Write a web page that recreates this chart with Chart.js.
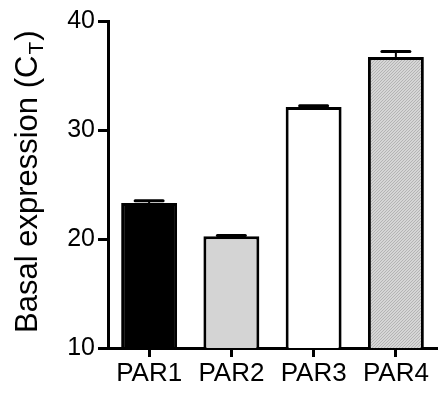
<!DOCTYPE html>
<html>
<head>
<meta charset="utf-8">
<script src="https://cdn.jsdelivr.net/npm/chart.js@4"></script>
<style>
  html, body { margin: 0; padding: 0; background: #fff; }
  #chart { display: block; }
</style>
</head>
<body>
<canvas id="chart" width="438" height="393"></canvas>
<script>
// values
var categories = ["PAR1", "PAR2", "PAR3", "PAR4"];
var basal = [23.3, 20.25, 32.1, 36.7];
var sem = [0.2, 0.08, 0.12, 0.5];
var yTicks = [10, 20, 30, 40];
var yTitle = "Basal expression (C";
var yTitleSub = "T";

var FONT = "'Liberation Sans', Arial, Helvetica, sans-serif";

// fine grey hatch for PAR4
function hatch() {
  var c = document.createElement("canvas");
  c.width = 3;
  c.height = 3;
  var g = c.getContext("2d");
  g.fillStyle = "#d6d6d6";
  g.fillRect(0, 0, 3, 3);
  g.fillStyle = "#b4b4b4";
  for (var i = 0; i < 3; i++) {
    g.fillRect(i, 2 - i, 1, 1);
  }
  return g.createPattern(c, "repeat");
}

var fills = ["#000000", "#d4d4d4", "#ffffff", hatch()];

var errorBars = {
  id: "errorBars",
  afterDatasetsDraw: function (chart) {
    var ctx = chart.ctx;
    var y = chart.scales.y;
    var meta = chart.getDatasetMeta(0);
    ctx.save();
    ctx.strokeStyle = "#000";
    meta.data.forEach(function (bar, i) {
      var top = y.getPixelForValue(basal[i] + sem[i]);
      var half = bar.width * 0.25;
      ctx.lineWidth = 2;
      ctx.lineCap = "butt";
      ctx.beginPath();
      ctx.moveTo(bar.x, bar.y);
      ctx.lineTo(bar.x, top);
      ctx.stroke();
      ctx.lineWidth = 3;
      ctx.lineCap = "round";
      ctx.beginPath();
      ctx.moveTo(bar.x - half, top);
      ctx.lineTo(bar.x + half, top);
      ctx.stroke();
    });
    ctx.restore();
  }
};

// axis title with subscript T
var axisTitle = {
  id: "axisTitle",
  afterDraw: function (chart) {
    var ctx = chart.ctx;
    ctx.save();
    ctx.translate(37, 333);
    ctx.rotate(-Math.PI / 2);
    ctx.fillStyle = "#000";
    ctx.textBaseline = "alphabetic";
    ctx.textAlign = "left";
    ctx.font = "31px " + FONT;
    ctx.fillText(yTitle, 0, 0);
    var w = ctx.measureText(yTitle).width;
    ctx.font = "21px " + FONT;
    ctx.fillText(yTitleSub, w + 1, 6);
    var w2 = ctx.measureText(yTitleSub).width;
    ctx.font = "31px " + FONT;
    ctx.fillText(")", w + w2 + 2, 0);
    ctx.restore();
  }
};

var ctx = document.getElementById("chart");

var chart = new Chart(ctx, {
  type: "bar",
  data: {
    labels: categories,
    datasets: [
      {
        data: basal,
        backgroundColor: fills,
        borderColor: "#000",
        borderWidth: 3,
        borderSkipped: "start",
        barPercentage: 0.68,
        categoryPercentage: 1
      }
    ]
  },
  options: {
    responsive: false,
    animation: false,
    events: [],
    layout: {
      padding: { top: 21, right: 1, left: 0, bottom: 0 }
    },
    plugins: {
      legend: { display: false },
      tooltip: { enabled: false }
    },
    scales: {
      x: {
        z: 1,
        offset: true,
        grid: {
          offset: false,
          drawOnChartArea: false,
          color: "#000",
          lineWidth: 3,
          tickLength: 9
        },
        border: { color: "#000", width: 3 },
        ticks: {
          color: "#000",
          padding: 1,
          font: { family: FONT, size: 26 }
        },
        afterFit: function (s) { s.height = 45; }
      },
      y: {
        z: 1,
        min: yTicks[0],
        max: yTicks[yTicks.length - 1],
        afterBuildTicks: function (s) {
          s.ticks = yTicks.map(function (v) { return { value: v }; });
        },
        grid: {
          drawOnChartArea: false,
          color: "#000",
          lineWidth: 3,
          tickLength: 10
        },
        border: { color: "#000", width: 3 },
        ticks: {
          color: "#000",
          padding: 3,
          font: { family: FONT, size: 25 }
        },
        afterFit: function (s) { s.width = 108; }
      }
    }
  },
  plugins: [errorBars, axisTitle]
});
</script>
</body>
</html>
